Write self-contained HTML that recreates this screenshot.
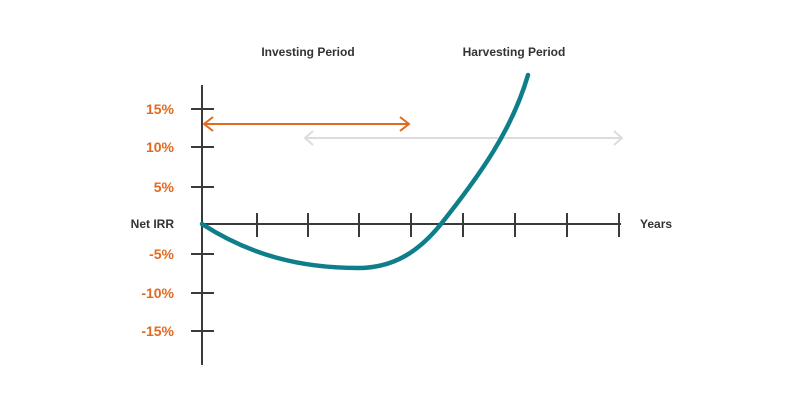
<!DOCTYPE html>
<html><head><style>
body{margin:0;background:#fff;}
svg{display:block;}
text{font-family:"Liberation Sans",sans-serif;font-weight:bold;font-size:12px;}
text.o{font-size:14px;fill:#e06a1f;}
</style></head><body>
<svg width="800" height="409" viewBox="0 0 800 409">
<g stroke="#3a3a3a" stroke-width="2" fill="none">
<line x1="202" y1="85" x2="202" y2="365"/>
<line x1="202" y1="224" x2="621" y2="224"/>
<line x1="191" y1="109" x2="214" y2="109"/>
<line x1="191" y1="147" x2="214" y2="147"/>
<line x1="191" y1="187" x2="214" y2="187"/>
<line x1="191" y1="254" x2="214" y2="254"/>
<line x1="191" y1="293" x2="214" y2="293"/>
<line x1="191" y1="331" x2="214" y2="331"/>
<line x1="257" y1="213" x2="257" y2="237"/>
<line x1="308" y1="213" x2="308" y2="237"/>
<line x1="359" y1="213" x2="359" y2="237"/>
<line x1="411" y1="213" x2="411" y2="237"/>
<line x1="463" y1="213" x2="463" y2="237"/>
<line x1="515" y1="213" x2="515" y2="237"/>
<line x1="567" y1="213" x2="567" y2="237"/>
<line x1="619" y1="213" x2="619" y2="237"/>
</g>
<g stroke="#e06a1f" stroke-width="2" fill="none">
<line x1="204" y1="124" x2="409" y2="124"/>
<polyline points="213,117 204,124 213,131"/>
<polyline points="400,117 409,124 400,131"/>
</g>
<g stroke="#dcdcdc" stroke-width="2" fill="none">
<line x1="305" y1="138" x2="622" y2="138"/>
<polyline points="313,131 305,138 313,145"/>
<polyline points="614,131 622,138 614,145"/>
</g>
<path d="M202,224 C250,255 300,268 358,268 C395,268 420,250 441,224 C480,175 512,130 528,75" stroke="#0e7f8a" stroke-width="4.5" fill="none" stroke-linecap="round"/>
<g text-anchor="end">
<text class="o" x="174" y="114">15%</text>
<text class="o" x="174" y="152">10%</text>
<text class="o" x="174" y="192">5%</text>
<text class="o" x="174" y="259">-5%</text>
<text class="o" x="174" y="298">-10%</text>
<text class="o" x="174" y="336">-15%</text>
</g>
<g fill="#333">
<text x="174" y="228" text-anchor="end">Net IRR</text>
<text x="640" y="228">Years</text>
<text x="308" y="56" text-anchor="middle">Investing Period</text>
<text x="514" y="56" text-anchor="middle">Harvesting Period</text>
</g>
</svg>
</body></html>
